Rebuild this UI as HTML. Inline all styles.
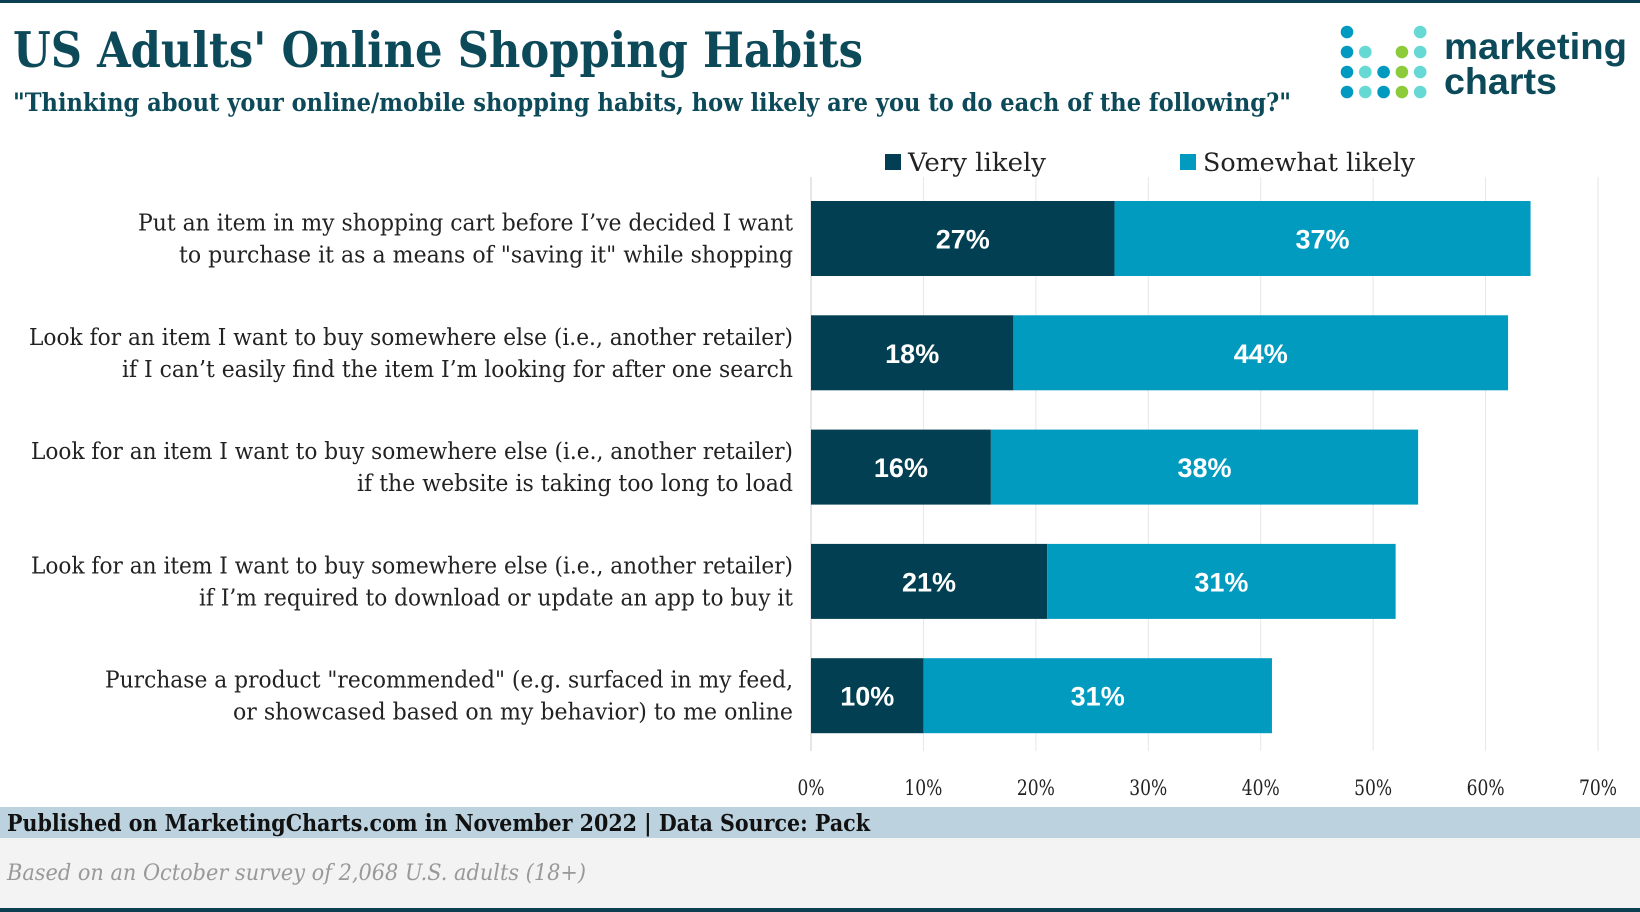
<!DOCTYPE html>
<html><head><meta charset="utf-8"><style>
html,body{margin:0;padding:0;background:#fff;}
svg{display:block;font-family:"DejaVu Serif","Liberation Serif",serif;}
</style></head><body>
<svg id="chart" width="1640" height="912" viewBox="0 0 1640 912">
<rect x="0" y="0" width="1640" height="3" fill="#0c3f52"/>
<text x="13" y="67" font-size="49" font-weight="bold" fill="#0c4a5a" textLength="850" lengthAdjust="spacingAndGlyphs">US Adults' Online Shopping Habits</text>
<text x="13" y="111" font-size="25" font-weight="bold" fill="#0c4a5a" textLength="1278" lengthAdjust="spacingAndGlyphs">"Thinking about your online/mobile shopping habits, how likely are you to do each of the following?"</text>
<g id="logo"></g>
<text x="1444" y="59" font-size="37" font-weight="bold" fill="#0c4a5a" font-family="Liberation Sans,sans-serif" textLength="183" lengthAdjust="spacingAndGlyphs">marketing</text>
<text x="1444" y="94" font-size="37" font-weight="bold" fill="#0c4a5a" font-family="Liberation Sans,sans-serif" textLength="113" lengthAdjust="spacingAndGlyphs">charts</text>
<g>
<rect x="885" y="154" width="16" height="16" fill="#023f52"/>
<text x="908" y="171" font-size="25" fill="#222" textLength="138" lengthAdjust="spacingAndGlyphs">Very likely</text>
<rect x="1180" y="154" width="16" height="16" fill="#009bbf"/>
<text x="1203" y="171" font-size="25" fill="#222" textLength="212" lengthAdjust="spacingAndGlyphs">Somewhat likely</text>
</g>
<g id="grid"></g><g id="bars"></g><g id="labels"></g><g id="ticks"></g>
<rect x="0" y="807" width="1640" height="31" fill="#bcd2df"/>
<text x="7" y="831" font-size="23" font-weight="bold" fill="#111" textLength="863" lengthAdjust="spacingAndGlyphs">Published on MarketingCharts.com in November 2022 | Data Source: Pack</text>
<rect x="0" y="838" width="1640" height="70" fill="#f3f3f3"/>
<text x="7" y="880" font-size="22" font-style="italic" fill="#999" textLength="579" lengthAdjust="spacingAndGlyphs">Based on an October survey of 2,068 U.S. adults (18+)</text>
<rect x="0" y="908" width="1640" height="4" fill="#0c3f52"/>
</svg>
<script>
const categories=[
 ["Put an item in my shopping cart before I’ve decided I want","to purchase it as a means of \"saving it\" while shopping"],
 ["Look for an item I want to buy somewhere else (i.e., another retailer)","if I can’t easily find the item I’m looking for after one search"],
 ["Look for an item I want to buy somewhere else (i.e., another retailer)","if the website is taking too long to load"],
 ["Look for an item I want to buy somewhere else (i.e., another retailer)","if I’m required to download or update an app to buy it"],
 ["Purchase a product \"recommended\" (e.g. surfaced in my feed,","or showcased based on my behavior) to me online"]];
const veryLikely=[27,18,16,21,10];
const somewhatLikely=[37,44,38,31,31];
const tickValues=[0,10,20,30,40,50,60,70];
const lineWidths=[[655,614],[764,671],[762,436],[762,594],[688,560]];
const NS="http://www.w3.org/2000/svg";
const x0=811,x1=1598,xMax=70;
const xs=v=>x0+(x1-x0)*v/xMax;
const rowTop=201,pitch=114.3,barH=75;
function mk(t,a,p,txt){const e=document.createElementNS(NS,t);for(const k in a)e.setAttribute(k,a[k]);if(txt!=null)e.textContent=txt;document.getElementById(p).appendChild(e);return e;}
tickValues.forEach((t,i)=>{
 const g=mk('line',{x1:xs(t),x2:xs(t),y1:177,y2:751,stroke:i==0?'#cfcfcf':'#e6e6e6','stroke-width':1},'grid');
 
 
 const l=mk('text',{x:xs(t),y:795,'text-anchor':'middle','font-size':21,fill:'#222',textLength:String(t).length>1?38:27,lengthAdjust:'spacingAndGlyphs'},'ticks',t+'%');
 
 
});
categories.forEach((c,i)=>{
 const y=rowTop+i*pitch,cy=y+barH/2;
 const a=mk('rect',{x:xs(0),y:y,width:xs(veryLikely[i])-xs(0),height:barH,fill:'#023f52'},'bars');
 
 
 const b=mk('rect',{x:xs(veryLikely[i]),y:y,width:xs(veryLikely[i]+somewhatLikely[i])-xs(veryLikely[i]),height:barH,fill:'#009bbf'},'bars');
 
 
 const va=mk('text',{x:(xs(0)+xs(veryLikely[i]))/2,y:cy+10,'text-anchor':'middle','font-size':27,'font-weight':'bold',fill:'#fff','font-family':'Liberation Sans,sans-serif'},'labels',veryLikely[i]+'%');
 
 
 const vb=mk('text',{x:(xs(veryLikely[i])+xs(veryLikely[i]+somewhatLikely[i]))/2,y:cy+10,'text-anchor':'middle','font-size':27,'font-weight':'bold',fill:'#fff','font-family':'Liberation Sans,sans-serif'},'labels',somewhatLikely[i]+'%');
 
 
 c.forEach((line,j)=>{
  const t=mk('text',{x:793,y:cy+(j?16:-16)+8,'text-anchor':'end','font-size':23,fill:'#222',textLength:lineWidths[i][j],lengthAdjust:'spacingAndGlyphs'},'labels',line);
  
  
 });
});
const dotCols=[[1,1,1,1],[0,2,2,2],[0,0,1,1],[0,3,3,3],[2,2,2,2]];
const dotColors=['none','#0099c0','#66d9d5','#8ccc3c'];
dotCols.forEach((col,ci)=>col.forEach((k,ri)=>{
 if(!k)return;
 const d=mk('circle',{cx:1347+ci*18.3,cy:32+ri*20,r:6.3,fill:dotColors[k]},'logo');
 
 
}));
</script>
</body></html>
